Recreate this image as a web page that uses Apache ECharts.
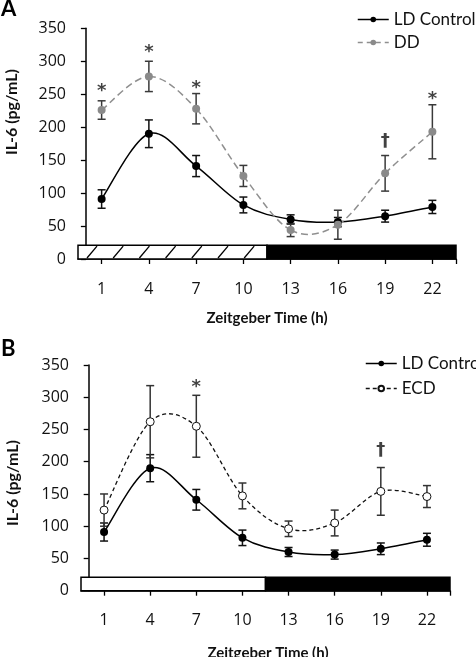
<!DOCTYPE html>
<html><head><meta charset="utf-8">
<script src="https://cdn.jsdelivr.net/npm/echarts@6/dist/echarts.min.js"></script>
<style>html,body{margin:0;padding:0;background:#fff}#c{width:476px;height:657px}</style>
</head><body><div id="c"></div>
<script>
// ---- data ----
const hours = [1, 4, 7, 10, 13, 16, 19, 22];
const tickHours = [1, 4, 7, 10, 13, 16, 19, 22, 23.5];
const yTicks = [0, 50, 100, 150, 200, 250, 300, 350];
const ldMean = [91, 190, 141, 82, 60, 56, 65, 79];
const ldErr  = [14, 21, 16, 12, 7, 7, 9, 10];
const ddMean = [226, 277, 228, 126, 44, 52, 130, 193];
const ddErr  = [14, 23, 23, 16, 10, 22, 27, 41];
const ecdMean = [125, 262, 255, 147, 96, 105, 154, 146];
const ecdErr  = [25, 56, 48, 20, 12, 20, 37, 17];
// light/dark phase bar (hours, IL-6 units)
const phaseStart = [-0.5, 11.5];
const phaseEnd   = [11.5, 23.5];
const phaseTop   = 21;
const phaseKindA = ['hatch', 'dark'];
const phaseKindB = ['light', 'dark'];
// significance marks
const sigAx = [1, 4, 7, 19, 22];
const sigAy = [254, 314, 259, 179, 243];
const sigAt = ['*', '*', '*', '\u2020', '*'];
const sigBx = [7, 19];
const sigBy = [316, 217];
const sigBt = ['*', '\u2020'];

const FONT = 'Lato';
const TICKFONT = 'Open Sans';
const SIGFONT = 'DejaVu Sans';
const TXT = '#111';

function pts(xs, ys) { return xs.map((x, i) => [x, ys[i]]); }
function errData(xs, m, e) { return xs.map((x, i) => [x, m[i] - e[i], m[i] + e[i]]); }
function sigData(xs, ys, ts) { return xs.map((x, i) => ({ value: [x, ys[i]], name: ts[i] })); }

function errRender(color) {
  return function (params, api) {
    const x = api.value(0);
    const lo = api.coord([x, api.value(1)]);
    const hi = api.coord([x, api.value(2)]);
    const w = 4;
    const st = { stroke: color, lineWidth: 1.5 };
    return { type: 'group', children: [
      { type: 'line', shape: { x1: lo[0], y1: lo[1], x2: hi[0], y2: hi[1] }, style: st },
      { type: 'line', shape: { x1: lo[0] - w, y1: lo[1], x2: lo[0] + w, y2: lo[1] }, style: st },
      { type: 'line', shape: { x1: hi[0] - w, y1: hi[1], x2: hi[0] + w, y2: hi[1] }, style: st }
    ]};
  };
}

// spreadsheet-style smoothed curve: one bezier segment per data item, via the axes
function curveRender(xs, ys, stroke, width, dash) {
  return function (params, api) {
    const i = params.dataIndex;
    const n = xs.length;
    if (i >= n - 1) return null;
    const P = k => { const j = Math.max(0, Math.min(n - 1, k)); return api.coord([xs[j], ys[j]]); };
    const p0 = P(i - 1), p1 = P(i), p2 = P(i + 1), p3 = P(i + 2);
    return { type: 'bezierCurve',
      shape: { x1: p1[0], y1: p1[1], x2: p2[0], y2: p2[1],
        cpx1: p1[0] + (p2[0] - p0[0]) / 6, cpy1: p1[1] + (p2[1] - p0[1]) / 6,
        cpx2: p2[0] - (p3[0] - p1[0]) / 6, cpy2: p2[1] - (p3[1] - p1[1]) / 6 },
      style: { fill: 'none', stroke: stroke, lineWidth: width, lineDash: dash || null } };
  };
}

function phaseRender(params, api) {
  const a = api.coord([api.value(0), 0]);
  const b = api.coord([api.value(1), api.value(2)]);
  const kind = api.value(3);
  const x = a[0], y = b[1], w = b[0] - a[0], h = a[1] - b[1];
  const children = [{ type: 'rect', shape: { x: x, y: y, width: w, height: h },
    style: { fill: kind === 'dark' ? '#000' : '#fff', stroke: '#000', lineWidth: 1.5 } }];
  if (kind === 'hatch') {
    for (let sx = x + 9; sx + 10 < x + w; sx += 26.2) {
      children.push({ type: 'line', shape: { x1: sx, y1: y + h - 1, x2: sx + 10, y2: y + 1 },
        style: { stroke: '#000', lineWidth: 1.3 } });
    }
  }
  return { type: 'group', children: children };
}

function phaseData(kinds) { return phaseStart.map((s, i) => [s, phaseEnd[i], phaseTop, kinds[i]]); }

function xAxisDef(gi) {
  return {
    type: 'value', gridIndex: gi, min: -0.5, max: 23.5,
    axisLine: { lineStyle: { color: '#000', width: 1.5 } },
    axisTick: { show: true, customValues: tickHours, length: 5, lineStyle: { color: '#000', width: 1.3 } },
    axisLabel: { customValues: hours, margin: 22, fontFamily: TICKFONT, fontSize: 16, color: TXT },
    splitLine: { show: false }
  };
}
function yAxisDef(gi) {
  return {
    type: 'value', gridIndex: gi, min: 0, max: 350, interval: 50,
    axisLine: { show: true, lineStyle: { color: '#000', width: 1.5 } },
    axisTick: { show: true, length: 5, inside: false, lineStyle: { color: '#000', width: 1.3 } },
    axisLabel: { margin: 12, fontFamily: TICKFONT, fontSize: 16, color: TXT, customValues: yTicks },
    splitLine: { show: false }
  };
}

function markerSeries(name, xi, ys, itemStyle) {
  return { type: 'line', name: name, xAxisIndex: xi, yAxisIndex: xi, symbol: 'circle', symbolSize: 8,
    lineStyle: { opacity: 0 }, itemStyle: itemStyle, data: pts(hours, ys), z: 6 };
}
function curveSeries(xi, ys, stroke, width, dash) {
  return { type: 'custom', xAxisIndex: xi, yAxisIndex: xi, silent: true, z: 5,
    renderItem: curveRender(hours, ys, stroke, width, dash), data: pts(hours, ys) };
}
const sigLabel = { show: true, position: 'inside', formatter: p => p.name,
  fontFamily: SIGFONT, fontWeight: 'bold', fontSize: 18, color: '#111' };

const legendText = { fontFamily: FONT, fontSize: 17, color: TXT };
const option = {
  animation: false,
  textStyle: { fontFamily: FONT },
  grid: [
    { left: 78, top: 28.3, width: 378, height: 230.7 },
    { left: 81, top: 365, width: 369, height: 225.7 }
  ],
  xAxis: [xAxisDef(0), xAxisDef(1)],
  yAxis: [yAxisDef(0), yAxisDef(1)],
  legend: [
    { data: [
        { name: 'LD Control', lineStyle: { opacity: 1, color: '#000', width: 1.5 } },
        { name: 'DD', lineStyle: { opacity: 1, color: '#8f8f8f', width: 1.5, type: [5, 4] } }
      ],
      orient: 'vertical', left: 352, top: 6, itemWidth: 31, itemHeight: 7, itemGap: 6,
      textStyle: legendText },
    { data: [
        { name: 'LD Control', lineStyle: { opacity: 1, color: '#000', width: 1.5 } },
        { name: 'ECD', lineStyle: { opacity: 1, color: '#111', width: 1.3, type: [4, 3] } }
      ],
      orient: 'vertical', left: 360, top: 350, itemWidth: 31, itemHeight: 7, itemGap: 8,
      textStyle: legendText }
  ],
  graphic: [
    { type: 'text', left: 1, top: -2, style: { text: 'A', font: 'bold 22px ' + FONT, fill: '#000' } },
    { type: 'text', left: 1, top: 338, style: { text: 'B', font: 'bold 22px ' + FONT, fill: '#000' } },
    { type: 'text', x: 12, y: 112, rotation: Math.PI / 2,
      style: { text: 'IL-6 (pg/mL)', font: 'bold 16px ' + FONT, fill: TXT, align: 'center', verticalAlign: 'middle' } },
    { type: 'text', x: 13, y: 483, rotation: Math.PI / 2,
      style: { text: 'IL-6 (pg/mL)', font: 'bold 16px ' + FONT, fill: TXT, align: 'center', verticalAlign: 'middle' } },
    { type: 'text', x: 267, y: 318,
      style: { text: 'Zeitgeber Time (h)', font: 'bold 15px ' + FONT, fill: TXT, align: 'center', verticalAlign: 'middle' } },
    { type: 'text', x: 268, y: 653,
      style: { text: 'Zeitgeber Time (h)', font: 'bold 15px ' + FONT, fill: TXT, align: 'center', verticalAlign: 'middle' } }
  ],
  series: [
    // panel A
    { type: 'custom', name: 'phaseA', xAxisIndex: 0, yAxisIndex: 0, renderItem: phaseRender,
      data: phaseData(phaseKindA), z: 1, silent: true },
    { type: 'custom', name: 'errLD_A', xAxisIndex: 0, yAxisIndex: 0, renderItem: errRender('#111'),
      data: errData(hours, ldMean, ldErr), z: 4 },
    { type: 'custom', name: 'errDD', xAxisIndex: 0, yAxisIndex: 0, renderItem: errRender('#3a3a3a'),
      data: errData(hours, ddMean, ddErr), z: 4 },
    curveSeries(0, ldMean, '#000', 1.5, null),
    curveSeries(0, ddMean, '#8f8f8f', 1.5, [7, 4]),
    markerSeries('LD Control', 0, ldMean, { color: '#000' }),
    markerSeries('DD', 0, ddMean, { color: '#8a8a8a' }),
    { type: 'scatter', name: 'sigA', xAxisIndex: 0, yAxisIndex: 0, symbolSize: 0, silent: true,
      data: sigData(sigAx, sigAy, sigAt), label: sigLabel, z: 7 },
    // panel B
    { type: 'custom', name: 'phaseB', xAxisIndex: 1, yAxisIndex: 1, renderItem: phaseRender,
      data: phaseData(phaseKindB), z: 1, silent: true },
    { type: 'custom', name: 'errLD_B', xAxisIndex: 1, yAxisIndex: 1, renderItem: errRender('#111'),
      data: errData(hours, ldMean, ldErr), z: 4 },
    { type: 'custom', name: 'errECD', xAxisIndex: 1, yAxisIndex: 1, renderItem: errRender('#333'),
      data: errData(hours, ecdMean, ecdErr), z: 4 },
    curveSeries(1, ldMean, '#000', 1.5, null),
    curveSeries(1, ecdMean, '#111', 1.3, [4, 3]),
    markerSeries('LD Control', 1, ldMean, { color: '#000' }),
    markerSeries('ECD', 1, ecdMean, { color: '#fff', borderColor: '#111', borderWidth: 1 }),
    { type: 'scatter', name: 'sigB', xAxisIndex: 1, yAxisIndex: 1, symbolSize: 0, silent: true,
      data: sigData(sigBx, sigBy, sigBt), label: sigLabel, z: 7 }
  ]
};
const chart = echarts.init(document.getElementById('c'), null, { renderer: 'canvas' });
chart.setOption(option);
</script></body></html>
